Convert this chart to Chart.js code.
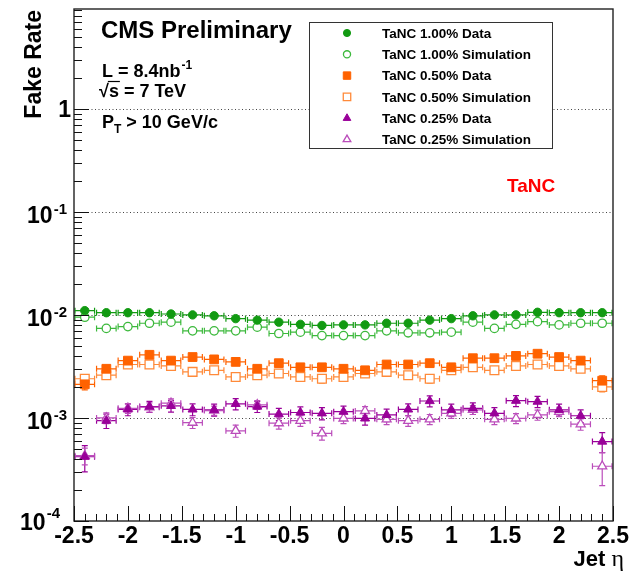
<!DOCTYPE html>
<html>
<head>
<meta charset="utf-8">
<script src="https://cdn.jsdelivr.net/npm/chart.js@4.4.0/dist/chart.umd.min.js"></script>
<style>
html,body{margin:0;padding:0;background:#fff;}
#wrap{width:635px;height:573px;}
</style>
</head>
<body>
<div id="wrap"><canvas id="chart" width="635" height="573"></canvas></div>
<script>
// bin centres in jet eta (bin width 0.2)
const etaCenters = [-2.4,-2.2,-2.0,-1.8,-1.6,-1.4,-1.2,-1.0,-0.8,-0.6,-0.4,-0.2,0.0,0.2,0.4,0.6,0.8,1.0,1.2,1.4,1.6,1.8,2.0,2.2,2.4];
const binHalf = 0.1;

const tanc100Data = [0.0110,0.0105,0.0105,0.0105,0.0102,0.0100,0.0098,0.0092,0.0089,0.0085,0.0081,0.0079,0.0080,0.0080,0.0083,0.0083,0.0089,0.0092,0.0098,0.0100,0.0100,0.0106,0.0105,0.0105,0.0105];
const tanc100DataErr = [0.0004,0.0003,0.0003,0.0003,0.0003,0.0003,0.0003,0.0003,0.0003,0.0003,0.0003,0.0003,0.0003,0.0003,0.0003,0.0003,0.0003,0.0003,0.0003,0.0003,0.0003,0.0003,0.0003,0.0003,0.0004];
const tanc100Sim = [0.0095,0.0074,0.0077,0.0083,0.0085,0.0070,0.0070,0.0070,0.0076,0.0066,0.0068,0.0063,0.0063,0.0063,0.0070,0.0067,0.0067,0.0068,0.0085,0.0074,0.0081,0.0086,0.0080,0.0083,0.0083];
const tanc100SimErr = [0.0004,0.0003,0.0003,0.0003,0.0003,0.0003,0.0003,0.0003,0.0003,0.0003,0.0003,0.0003,0.0003,0.0003,0.0003,0.0003,0.0003,0.0003,0.0003,0.0003,0.0003,0.0003,0.0003,0.0003,0.0004];

const tanc050Data = [0.00212,0.0030,0.0036,0.0041,0.0036,0.0039,0.0037,0.0035,0.0030,0.0034,0.0031,0.0031,0.0030,0.0029,0.0033,0.0033,0.0034,0.0031,0.0038,0.0038,0.0040,0.0042,0.0039,0.0036,0.0023];
const tanc050DataErr = [0.00025,0.00022,0.00024,0.00026,0.00024,0.00025,0.00024,0.00024,0.00022,0.00023,0.00022,0.00022,0.00022,0.00022,0.00023,0.00023,0.00023,0.00022,0.00024,0.00024,0.00025,0.00026,0.00025,0.00024,0.00026];
const tanc050Sim = [0.0024,0.0026,0.0033,0.0033,0.0032,0.0028,0.0029,0.0025,0.0026,0.0027,0.0025,0.0024,0.0025,0.0027,0.0028,0.0026,0.0024,0.0029,0.0031,0.0029,0.0032,0.0033,0.0032,0.0030,0.0020];
const tanc050SimErr = [0.00022,0.00022,0.00025,0.00025,0.00024,0.00023,0.00023,0.00022,0.00022,0.00023,0.00022,0.00022,0.00022,0.00023,0.00023,0.00022,0.00022,0.00023,0.00024,0.00023,0.00024,0.00025,0.00024,0.00023,0.00021];

const tanc025Data = [0.00042,0.00094,0.00121,0.00129,0.00131,0.00121,0.00120,0.00137,0.00129,0.00109,0.00113,0.00111,0.00115,0.00099,0.00107,0.00121,0.00146,0.00120,0.00124,0.00111,0.00147,0.00144,0.00120,0.00105,0.00059];
const tanc025DataErr = [0.00012,0.00015,0.00016,0.00016,0.00017,0.00016,0.00016,0.00017,0.00016,0.00015,0.00015,0.00015,0.00015,0.00014,0.00015,0.00016,0.00018,0.00016,0.00016,0.00015,0.00018,0.00018,0.00016,0.00015,0.00013];
const tanc025Sim = [0.00043,0.00100,0.00124,0.00127,0.00139,0.00090,0.00118,0.00075,0.00134,0.00089,0.00094,0.00071,0.00099,0.00117,0.00097,0.00094,0.00097,0.00111,0.00120,0.00097,0.00099,0.00107,0.00115,0.00087,0.00034];
const tanc025SimErr = [0.00008,0.00012,0.00013,0.00013,0.00014,0.00011,0.00012,0.00010,0.00013,0.00011,0.00011,0.00010,0.00011,0.00012,0.00011,0.00011,0.00011,0.00012,0.00012,0.00011,0.00011,0.00012,0.00012,0.00011,0.00012];

const xTickLabels = ['-2.5','-2','-1.5','-1','-0.5','0','0.5','1','1.5','2','2.5'];
const yDecades = [1e-4, 1e-3, 1e-2, 1e-1, 1];
const yDecadeExp = ['-4','-3','-2','-1',''];
const gridDecades = [1e-3, 1e-2, 1e-1, 1];

const SANS = '"Liberation Sans", Arial, Helvetica, sans-serif';

const pts = (vals, errs) => etaCenters.map((x, i) => ({ x, y: vals[i], err: errs[i] }));

const series = [
  { label:'TaNC 1.00% Data',       vals:tanc100Data, errs:tanc100DataErr, color:'#129a12', style:'circle',   r:4.2, open:false },
  { label:'TaNC 1.00% Simulation', vals:tanc100Sim,  errs:tanc100SimErr,  color:'#3cb93c', style:'circle',   r:4.2, open:true },
  { label:'TaNC 0.50% Data',       vals:tanc050Data, errs:tanc050DataErr, color:'#ff6200', style:'rect',     r:6.2, open:false },
  { label:'TaNC 0.50% Simulation', vals:tanc050Sim,  errs:tanc050SimErr,  color:'#ff8a3a', style:'rect',     r:6.2, open:true },
  { label:'TaNC 0.25% Data',       vals:tanc025Data, errs:tanc025DataErr, color:'#990099', style:'triangle', r:5.2, open:false },
  { label:'TaNC 0.25% Simulation', vals:tanc025Sim,  errs:tanc025SimErr,  color:'#bb4dbb', style:'triangle', r:5.2, open:true }
];

function drawMarker(ctx, s, x, y, scale){
  Chart.helpers.drawPoint(ctx, { pointStyle: s.style, radius: s.r * scale, rotation: 0, borderWidth: s.open ? 1.3 : 1 }, x, y);
}

const rootStyle = {
  id: 'rootStyle',
  beforeDatasetsDraw(chart){
    const { ctx, chartArea: a, scales: { x, y } } = chart;
    ctx.save();
    // dotted lines at each decade
    ctx.strokeStyle = '#444'; ctx.lineWidth = 1; ctx.setLineDash([1, 2.5]);
    gridDecades.forEach(v => {
      const py = Math.round(y.getPixelForValue(v)) + 0.5;
      ctx.beginPath(); ctx.moveTo(a.left, py); ctx.lineTo(a.right, py); ctx.stroke();
    });
    ctx.setLineDash([]);
    // error bars with end caps
    chart.data.datasets.forEach(ds => {
      ctx.strokeStyle = ds.borderColor; ctx.lineWidth = 1.2;
      ds.data.forEach(p => {
        const px = x.getPixelForValue(p.x), py = y.getPixelForValue(p.y);
        const x0 = x.getPixelForValue(p.x - binHalf) + 1, x1 = x.getPixelForValue(p.x + binHalf) - 1;
        const yt = y.getPixelForValue(p.y + p.err), yb = y.getPixelForValue(p.y - p.err);
        ctx.beginPath();
        ctx.moveTo(x0, py); ctx.lineTo(x1, py);
        ctx.moveTo(x0, py - 3); ctx.lineTo(x0, py + 3);
        ctx.moveTo(x1, py - 3); ctx.lineTo(x1, py + 3);
        ctx.moveTo(px, yt); ctx.lineTo(px, yb);
        ctx.moveTo(px - 3, yt); ctx.lineTo(px + 3, yt);
        ctx.moveTo(px - 3, yb); ctx.lineTo(px + 3, yb);
        ctx.stroke();
      });
    });
    ctx.restore();
  },
  afterDatasetsDraw(chart){
    const { ctx, chartArea: a, scales: { x, y } } = chart;
    ctx.save();
    // frame
    ctx.strokeStyle = '#222'; ctx.lineWidth = 1.4;
    ctx.strokeRect(a.left, a.top, a.right - a.left, a.bottom - a.top);
    ctx.lineWidth = 1; ctx.strokeStyle = '#111';
    // x ticks
    ctx.beginPath();
    for (let i = 0; i <= 50; i++){
      const v = -2.5 + i * 0.1;
      const px = Math.round(x.getPixelForValue(v)) + 0.5;
      const len = i % 5 === 0 ? 15 : 7;
      ctx.moveTo(px, a.bottom); ctx.lineTo(px, a.bottom - len);
    }
    // y ticks (log)
    yDecades.forEach(v => {
      for (let m = 1; m <= 9; m++){
        const t = v * m;
        if (t > y.max) break;
        const py = Math.round(y.getPixelForValue(t)) + 0.5;
        ctx.moveTo(a.left, py); ctx.lineTo(a.left + (m === 1 ? 15 : 8), py);
      }
    });
    ctx.stroke();

    ctx.fillStyle = '#000';
    // x tick labels
    ctx.font = 'bold 23px ' + SANS; ctx.textAlign = 'center'; ctx.textBaseline = 'alphabetic';
    xTickLabels.forEach(t => ctx.fillText(t, x.getPixelForValue(Number(t)), 543));
    // y tick labels
    yDecades.forEach((v, k) => {
      const py = y.getPixelForValue(v);
      if (!yDecadeExp[k]){
        ctx.font = 'bold 23px ' + SANS; ctx.textAlign = 'right';
        ctx.fillText('1', 71, py + 8);
        return;
      }
      const bottom = k === 0;
      const right = bottom ? 60 : 67;
      ctx.textAlign = 'left';
      ctx.font = 'bold 15px ' + SANS;
      const sw = ctx.measureText(yDecadeExp[k]).width;
      ctx.fillText(yDecadeExp[k], right - sw, bottom ? py - 3 : py + 2);
      ctx.font = 'bold 23px ' + SANS;
      const bw = ctx.measureText('10').width;
      ctx.fillText('10', right - sw - 1 - bw, bottom ? py + 9 : py + 11);
    });

    // axis titles
    ctx.save();
    ctx.translate(41, 10); ctx.rotate(-Math.PI / 2);
    ctx.font = 'bold 23px ' + SANS; ctx.textAlign = 'right';
    ctx.fillText('Fake Rate', 0, 0);
    ctx.restore();
    ctx.textAlign = 'right';
    ctx.font = '24px "Liberation Serif", serif';
    const etaW = ctx.measureText('η').width;
    ctx.fillText('η', 624, 566);
    ctx.font = 'bold 22px ' + SANS;
    ctx.fillText('Jet ', 624 - etaW, 566);

    // labels inside the frame
    ctx.textAlign = 'left';
    ctx.font = 'bold 24px ' + SANS;
    ctx.fillText('CMS Preliminary', 101, 38);
    ctx.font = 'bold 18px ' + SANS;
    ctx.fillText('L = 8.4nb', 102, 77);
    const w = ctx.measureText('L = 8.4nb').width;
    ctx.font = 'bold 12px ' + SANS;
    ctx.fillText('-1', 102 + w + 1, 69);
    ctx.font = 'bold 18px ' + SANS;
    ctx.fillText('\u221A', 99, 97);
    const rw = ctx.measureText('\u221A').width;
    ctx.fillText('s = 7 TeV', 99 + rw, 97);
    const sw2 = ctx.measureText('s').width;
    ctx.lineWidth = 1.2; ctx.strokeStyle = '#000';
    ctx.beginPath(); ctx.moveTo(99 + rw - 1, 81.5); ctx.lineTo(99 + rw + sw2 + 1, 81.5); ctx.stroke();
    ctx.fillText('P', 102, 128);
    const pw = ctx.measureText('P').width;
    ctx.font = 'bold 12px ' + SANS;
    ctx.fillText('T', 102 + pw, 133);
    const tw = ctx.measureText('T').width;
    ctx.font = 'bold 18px ' + SANS;
    ctx.fillText(' > 10 GeV/c', 102 + pw + tw, 128);

    ctx.fillStyle = '#ff0000';
    ctx.font = 'bold 19px ' + SANS;
    ctx.fillText('TaNC', 507, 192);

    // legend
    const lx = 309, ly = 22, lw = 243, lh = 126;
    ctx.fillStyle = '#fff'; ctx.fillRect(lx, ly, lw, lh);
    ctx.strokeStyle = '#333'; ctx.lineWidth = 1;
    ctx.strokeRect(lx + 0.5, ly + 0.5, lw, lh);
    ctx.font = 'bold 13.5px ' + SANS; ctx.textBaseline = 'middle';
    series.forEach((s, i) => {
      const ry = ly + 11 + i * 21.3;
      ctx.fillStyle = s.open ? '#fff' : s.color;
      ctx.strokeStyle = s.color;
      ctx.lineWidth = s.open ? 1.3 : 1;
      drawMarker(ctx, s, 347, ry, 0.85);
      ctx.fillStyle = '#000';
      ctx.fillText(s.label, 382, ry + 1);
    });
    ctx.restore();
  }
};

new Chart(document.getElementById('chart').getContext('2d'), {
  type: 'scatter',
  data: {
    datasets: series.map(s => ({
      label: s.label,
      data: pts(s.vals, s.errs),
      pointStyle: s.style,
      pointRadius: s.r,
      pointHoverRadius: s.r,
      borderColor: s.color,
      backgroundColor: s.open ? '#ffffff' : s.color,
      pointBorderWidth: s.open ? 1.3 : 1
    }))
  },
  options: {
    responsive: false,
    animation: false,
    devicePixelRatio: 1,
    layout: { padding: { left: 74, right: 22, top: 9, bottom: 52 } },
    plugins: { legend: { display: false }, tooltip: { enabled: false } },
    scales: {
      x: { type: 'linear', min: -2.5, max: 2.5, display: false },
      y: { type: 'logarithmic', min: 1e-4, max: 9.3, display: false }
    }
  },
  plugins: [rootStyle]
});
</script>
</body>
</html>
